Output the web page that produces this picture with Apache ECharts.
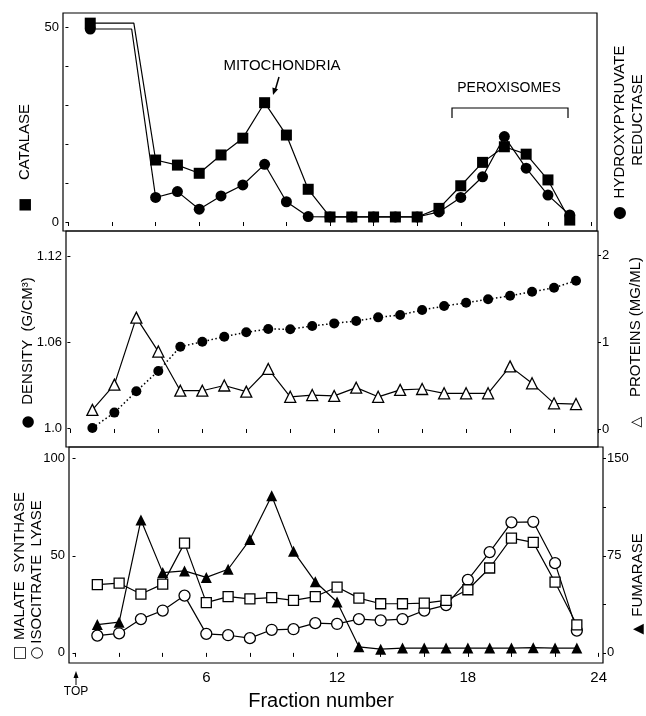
<!DOCTYPE html>
<html><head><meta charset="utf-8">
<script src="https://cdn.jsdelivr.net/npm/echarts@6/dist/echarts.min.js"></script>
<style>html,body{margin:0;padding:0;background:#fff}#c{width:646px;height:716px}</style>
</head><body><div id="c"></div><script>
// ---- data ----
const fractions = [1,2,3,4,5,6,7,8,9,10,11,12,13,14,15,16,17,18,19,20,21,22,23];
// top panel (fractions 2-3 off scale: line continues horizontally to the break)
const catalase = [51,null,null,15.9,14.6,12.5,17.2,21.5,30.6,22.3,8.4,1.3,1.3,1.3,1.3,1.3,3.5,9.3,15.3,19.3,17.4,10.8,0.5];
const hydroxypyruvateReductase = [49.5,null,null,6.3,7.8,3.3,6.7,9.5,14.8,5.2,1.4,1.3,1.3,1.3,1.3,1.3,2.6,6.3,11.6,21.9,13.8,6.9,1.8];
const catalaseBreakAt = 3.0;
const reductaseBreakAt = 2.9;
// middle panel
const density = [1.0,1.0107,1.0256,1.0398,1.0567,1.0602,1.0637,1.0668,1.0691,1.0689,1.0712,1.073,1.0747,1.0772,1.0789,1.0823,1.0851,1.0874,1.0898,1.0923,1.0951,1.0979,1.1028];
const proteins = [0.22,0.51,1.28,0.89,0.44,0.44,0.50,0.43,0.69,0.37,0.39,0.38,0.475,0.37,0.45,0.46,0.41,0.41,0.41,0.72,0.525,0.295,0.287];
// bottom panel
const malateSynthase = [35.1,35.9,30.3,35.4,56.5,25.9,29,27.8,28.5,27,29,33.9,28.2,25.3,25.3,25.6,27,32.5,43.7,59.1,56.9,36.4,14.4];
const isocitrateLyase = [8.9,10.1,17.4,21.8,29.5,9.8,9.1,7.6,11.9,12.2,15.3,14.9,17.4,16.7,17.4,21.8,24.6,37.6,51.9,67.2,67.5,46.2,11.5];
const fumarase = [21.9,23.7,102.6,62,63.3,58.3,64.6,87.5,121.3,78.4,54.9,39.3,4.7,2.9,3.7,3.7,3.7,3.7,3.7,3.7,4,3.7,3.7];
// ticks
const xTicks = [0,2,4,6,8,10,12,14,16,18,20,22,24];
const xLabels = [6,12,18,24];
const catalaseTicks = [0,10,20,30,40,50], catalaseLabels = [0,50];
const densityLabels = [1.0,1.06,1.12];
const proteinLabels = [0,1,2];
const enzymeLabels = [0,50,100];
const fumaraseTicks = [0,37.5,75,112.5,150], fumaraseLabels = [0,75,150];

// ---- helpers ----
const FONT = 'Liberation Sans, Arial, Helvetica, sans-serif';
function pairs(vals){ return fractions.map((f,i)=>[f, vals[i]]).filter(p=>p[1]!==null); }
function withBreak(vals, brk){
  const d = pairs(vals).map(p=>({value:p}));
  d.splice(1,0,{value:[brk, vals[0]], symbol:'none'});
  return d;
}
function xAxis(i, min, max, showLabels){
  return {type:'value', gridIndex:i, min:min, max:max,
    axisLine:{show:false}, splitLine:{show:false},
    axisTick:{show:true, inside:false, length:4, customValues:xTicks, lineStyle:{color:'#000', width:1}},
    axisLabel:{show:showLabels, customValues:xLabels, color:'#000', fontSize:15, fontFamily:FONT, margin:7}};
}
function yAxis(i, pos, min, max, ticks, labels, fmt){
  return {type:'value', gridIndex:i, position:pos, min:min, max:max,
    axisLine:{show:false}, splitLine:{show:false},
    axisTick:{show:!!ticks, inside:false, length:3, customValues:ticks||[], lineStyle:{color:'#000', width:1}},
    axisLabel:{show:!!labels, customValues:labels||[], color:'#000', fontSize:13, fontFamily:FONT, margin:4,
      formatter: fmt || (v=>String(v))}};
}
const solid = {color:'#000', width:1.2};
const filled = {color:'#000'};
const hollow = {color:'#fff', borderColor:'#000', borderWidth:1.3};
const gridBase = {show:true, borderColor:'#000', borderWidth:1.2, backgroundColor:'transparent'};

function vtext(x, y, text, size){
  return {type:'text', x:x, y:y, rotation:Math.PI/2,
    style:{text:text, fill:'#000', font: (size||14)+'px '+FONT, align:'center', verticalAlign:'middle'}};
}
function sym(x, y, ch, size){
  return {type:'text', x:x, y:y, rotation:Math.PI/2,
    style:{text:ch, fill:'#000', font: size+'px DejaVu Sans', align:'center', verticalAlign:'middle'}};
}

const option = {
  animation:false,
  backgroundColor:'#fff',
  grid:[
    Object.assign({left:63, top:13, width:534, height:218}, gridBase),
    Object.assign({left:66, top:231, width:532, height:216}, gridBase),
    Object.assign({left:69, top:447, width:534, height:216}, gridBase)
  ],
  xAxis:[ xAxis(0,-0.25,24.25,false), xAxis(1,-0.2,24,false), xAxis(2,-0.3,24.2,true) ],
  yAxis:[
    yAxis(0,'left',-2.3,53.6,catalaseTicks,catalaseLabels),
    yAxis(1,'left',0.9867,1.1375,densityLabels,densityLabels, v=> (Math.abs(v-1)<1e-9?'1.0':String(v))),
    yAxis(1,'right',-0.207,2.276,proteinLabels,proteinLabels),
    yAxis(2,'left',-5.2,106,enzymeLabels,enzymeLabels),
    yAxis(2,'right',-7.8,159,fumaraseTicks,fumaraseLabels)
  ],
  series:[
    {name:'Catalase', type:'line', xAxisIndex:0, yAxisIndex:0, data:withBreak(catalase,catalaseBreakAt),
      symbol:'rect', symbolSize:11, lineStyle:solid, itemStyle:filled},
    {name:'Hydroxypyruvate reductase', type:'line', xAxisIndex:0, yAxisIndex:0, data:withBreak(hydroxypyruvateReductase,reductaseBreakAt),
      symbol:'circle', symbolSize:11, lineStyle:solid, itemStyle:filled},
    {name:'Density', type:'line', xAxisIndex:1, yAxisIndex:1, data:pairs(density),
      symbol:'circle', symbolSize:10, lineStyle:{color:'#000', width:1.5, type:[1.5,2.5]}, itemStyle:filled},
    {name:'Proteins', type:'line', xAxisIndex:1, yAxisIndex:2, data:pairs(proteins),
      symbol:'triangle', symbolSize:11, lineStyle:solid, itemStyle:hollow},
    {name:'Fumarase', type:'line', xAxisIndex:2, yAxisIndex:4, data:pairs(fumarase),
      symbol:'triangle', symbolSize:11, lineStyle:solid, itemStyle:filled},
    {name:'Isocitrate lyase', type:'line', xAxisIndex:2, yAxisIndex:3, data:pairs(isocitrateLyase),
      symbol:'circle', symbolSize:11, lineStyle:solid, itemStyle:hollow},
    {name:'Malate synthase', type:'line', xAxisIndex:2, yAxisIndex:3, data:pairs(malateSynthase),
      symbol:'rect', symbolSize:10, lineStyle:solid, itemStyle:hollow}
  ],
  graphic:[
    vtext(25,142,'CATALASE',15),
    sym(25,205,'■',15),
    vtext(620,122,'HYDROXYPYRUVATE',15),
    sym(620,213,'●',16),
    vtext(638,120,'REDUCTASE',15),
    vtext(28,341,'DENSITY  (G/CM³)',15),
    sym(28,422,'●',15),
    vtext(636,327,'PROTEINS (MG/ML)',15),
    sym(636,422,'△',14),
    vtext(20,566,'MALATE  SYNTHASE',15),
    sym(20,653,'□',15),
    vtext(37,572,'ISOCITRATE  LYASE',15),
    sym(37,653,'○',15),
    vtext(638,575,'FUMARASE',15),
    sym(638,629,'▲',14),
    {type:'text', x:282, y:66, style:{text:'MITOCHONDRIA', fill:'#000', font:'15px '+FONT, align:'center', verticalAlign:'middle'}},
    {type:'line', shape:{x1:279, y1:77, x2:275.5, y2:89}, style:{stroke:'#000', lineWidth:1.5}},
    {type:'polygon', shape:{points:[[273,95],[278.1,89.3],[272.4,87.5]]}, style:{fill:'#000'}},
    {type:'text', x:509, y:88, style:{text:'PEROXISOMES', fill:'#000', font:'14px '+FONT, align:'center', verticalAlign:'middle'}},
    {type:'polyline', shape:{points:[[452,118],[452,108],[568,108],[568,118]]}, style:{stroke:'#000', lineWidth:1.2, fill:null}},
    {type:'line', shape:{x1:76, y1:685, x2:76, y2:676}, style:{stroke:'#000', lineWidth:1}},
    {type:'polygon', shape:{points:[[76,671],[73.5,678],[78.5,678]]}, style:{fill:'#000'}},
    {type:'text', x:76, y:692, style:{text:'TOP', fill:'#000', font:'12px '+FONT, align:'center', verticalAlign:'middle'}},
    {type:'text', x:321, y:701, style:{text:'Fraction number', fill:'#000', font:'20px '+FONT, align:'center', verticalAlign:'middle'}}
  ]
};
const chart = echarts.init(document.getElementById('c'), null, {renderer:'canvas'});
chart.setOption(option);
</script></body></html>
